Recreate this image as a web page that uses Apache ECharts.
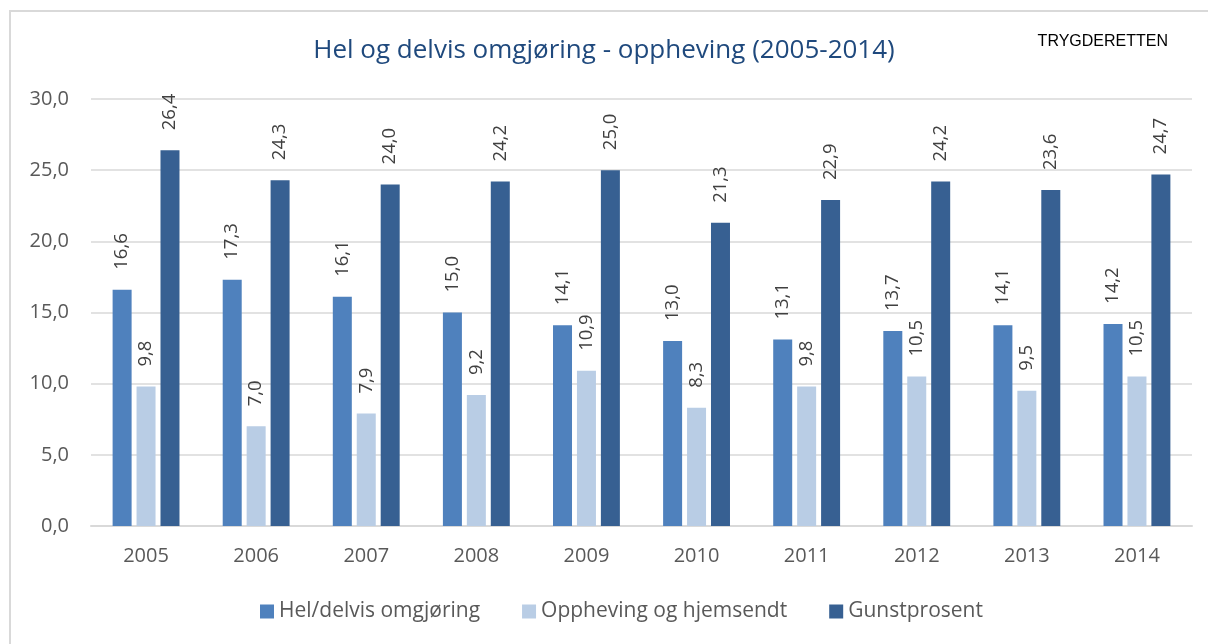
<!DOCTYPE html>
<html><head><meta charset="utf-8">
<script src="https://cdn.jsdelivr.net/npm/echarts@6/dist/echarts.min.js"></script>
<style>html,body{margin:0;padding:0;background:#fff}#c{width:1208px;height:644px}
#frame{position:absolute;left:9px;top:10px;width:1220px;height:660px;border:2px solid #d9d9d9;box-sizing:border-box;pointer-events:none}</style>
</head><body><div id="c"></div><div id="frame"></div>
<script>
const categories = ['2005','2006','2007','2008','2009','2010','2011','2012','2013','2014'];
const omgjoring = [16.6,17.3,16.1,15.0,14.1,13.0,13.1,13.7,14.1,14.2];
const oppheving = [9.8,7.0,7.9,9.2,10.9,8.3,9.8,10.5,9.5,10.5];
const gunst = [26.4,24.3,24.0,24.2,25.0,21.3,22.9,24.2,23.6,24.7];
const seriesNames = ['Hel/delvis omgjøring','Oppheving og hjemsendt','Gunstprosent'];
const colors = ['#4F81BD','#B9CDE5','#376092'];
const font = 'Open Sans, Noto Sans, sans-serif';
const fmt = v => v.toFixed(1).replace('.', ',');
const chart = echarts.init(document.getElementById('c'));
const mk = (name, data, color) => ({
  name, type:'bar', data, barWidth:19, barGap:'26%',
  itemStyle:{color},
  label:{show:true, position:'top', rotate:90, align:'left', verticalAlign:'middle', distance:20,
    formatter:p=>fmt(p.value), fontFamily:font, fontSize:18.5, color:'#404040'}
});
chart.setOption({
  animation:false,
  title:[{text:'Hel og delvis omgjøring - oppheving (2005-2014)', left:'center', top:33,
    textStyle:{fontFamily:font, fontSize:26, fontWeight:'normal', color:'#1F497D'}},
    {text:'TRYGDERETTEN', right:35, top:29, textStyle:{fontFamily:'Liberation Sans, Arial, sans-serif', fontSize:16, fontWeight:'normal', color:'#000'}}],
  grid:{left:91, right:16, top:99, bottom:118},
  legend:{top:596, left:255, itemWidth:14, itemHeight:14, itemGap:42, icon:'rect',
    textStyle:{fontFamily:font, fontSize:21, color:'#595959'}, data:seriesNames},
  xAxis:{type:'category', data:categories,
    axisLine:{lineStyle:{color:'#d9d9d9', width:2}}, axisTick:{show:false},
    axisLabel:{fontFamily:font, fontSize:20, color:'#595959', margin:20}},
  yAxis:{type:'value', min:0, max:30, interval:5,
    axisLabel:{formatter:v=>fmt(v), fontFamily:font, fontSize:20, color:'#595959', margin:22},
    splitLine:{lineStyle:{color:'#d9d9d9', width:1.5}}, axisLine:{show:false}},
  series:[mk(seriesNames[0], omgjoring, colors[0]), mk(seriesNames[1], oppheving, colors[1]), mk(seriesNames[2], gunst, colors[2])]
});
</script></body></html>
